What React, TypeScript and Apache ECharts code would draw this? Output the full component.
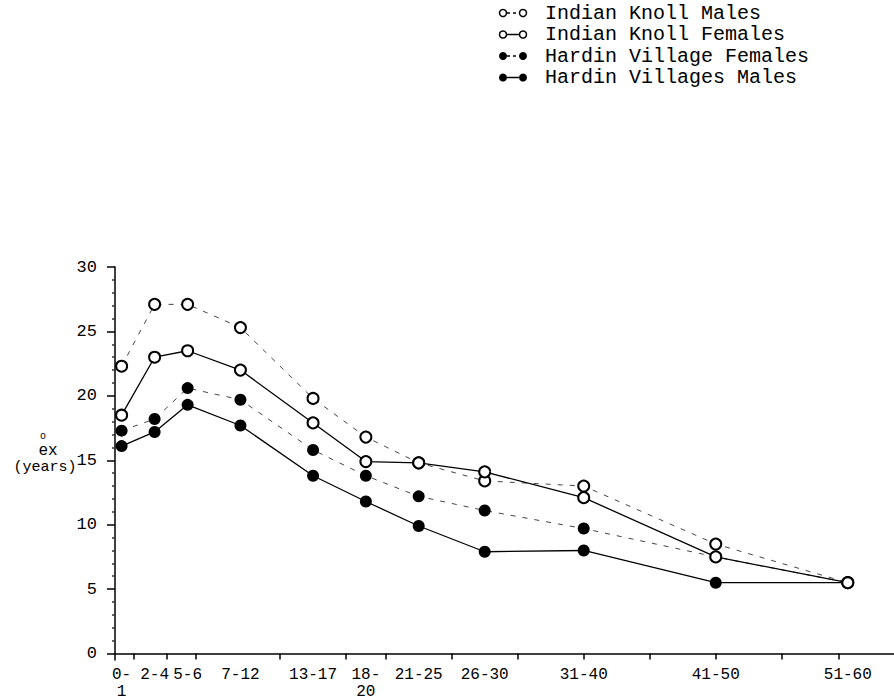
import { useEffect, useRef } from "react";
import * as echarts from "echarts";

// Age-group categories (x-axis labels) and their mid-point ages
const ageGroups = ["0-\n1", "2-4", "5-6", "7-12", "13-17", "18-\n20", "21-25", "26-30", "31-40", "41-50", "51-60"];
const ageMid = [0.5, 3, 5.5, 9.5, 15, 19, 23, 28, 35.5, 45.5, 55.5];
// Hand-drawn tick marks on the age axis (age values)
const xTickAges = [1.4, 3.9, 6.1, 12.5, 17.5, 20.5, 25.5, 30.5, 35.5, 40.5, 45.5, 50.5, 54.8];
// Y tick labels
const yTickValues = [0, 5, 10, 15, 20, 25, 30];

// Life expectancy e_x (years)
const ikMales = [22.3, 27.1, 27.1, 25.3, 19.8, 16.8, 14.8, 13.4, 13.0, 8.5, 5.5];
const ikFemales = [18.5, 23.0, 23.5, 22.0, 17.9, 14.9, 14.8, 14.1, 12.1, 7.5, 5.5];
const hvFemales = [17.3, 18.2, 20.6, 19.7, 15.8, 13.8, 12.2, 11.1, 9.7, 7.5, 5.5];
const hvMales = [16.1, 17.2, 19.3, 17.7, 13.8, 11.8, 9.9, 7.9, 8.0, 5.5, 5.5];

const seriesDefs = [
  { name: "Indian Knoll Males", values: ikMales, hollow: true, dashed: true },
  { name: "Indian Knoll Females", values: ikFemales, hollow: true, dashed: false },
  { name: "Hardin Village Females", values: hvFemales, hollow: false, dashed: true },
  { name: "Hardin Villages Males", values: hvMales, hollow: false, dashed: false },
];

const FONT = "Liberation Mono";

export default function App() {
  const ref = useRef<HTMLDivElement>(null);

  useEffect(() => {
    const chart = echarts.init(ref.current!, null, { renderer: "svg" });

    const minorTicks: number[] = [];
    for (let v = 1; v < 30; v++) if (v % 5 !== 0) minorTicks.push(v);

    const legendRows = [13, 34.5, 56, 77.5];
    const legendGraphics: any[] = [];
    seriesDefs.forEach((d, i) => {
      const y = legendRows[i];
      legendGraphics.push({
        type: "line",
        shape: { x1: 507, y1: y, x2: 519, y2: y },
        style: { stroke: "#000", lineWidth: 1.5, lineDash: d.dashed ? [3, 3] : null },
      });
      [503, 523].forEach((cx) => {
        legendGraphics.push({
          type: "circle",
          shape: { cx, cy: y, r: d.hollow ? 3.5 : 4 },
          style: d.hollow ? { fill: "#fff", stroke: "#000", lineWidth: 1.5 } : { fill: "#000" },
        });
      });
      legendGraphics.push({
        type: "text",
        x: 545,
        y,
        style: { text: d.name, font: `20px '${FONT}'`, fill: "#000", verticalAlign: "middle", align: "left" },
      });
    });

    const option: any = {
      animation: false,
      backgroundColor: "#fff",
      grid: { left: 115, right: 0, top: 267, bottom: 36, containLabel: false },
      xAxis: {
        type: "value",
        min: 0,
        max: 59,
        splitLine: { show: false },
        axisLine: { show: true, lineStyle: { color: "#000", width: 1.5 } },
        axisTick: { show: true, customValues: xTickAges, length: 6, lineStyle: { color: "#000", width: 1.5 } },
        axisLabel: {
          show: true,
          customValues: ageMid,
          margin: 6,
          color: "#000",
          fontFamily: FONT,
          fontSize: 16,
          lineHeight: 17,
          formatter: (v: number) => {
            const i = ageMid.findIndex((a) => Math.abs(a - v) < 1e-6);
            return i >= 0 ? ageGroups[i] : "";
          },
        },
      },
      yAxis: [
        {
          type: "value",
          min: -0.5,
          max: 30,
          splitLine: { show: false },
          axisLine: { show: true, lineStyle: { color: "#000", width: 1.5 } },
          axisTick: { show: true, customValues: yTickValues, length: 8, lineStyle: { color: "#000", width: 1.5 } },
          axisLabel: { show: true, customValues: yTickValues, margin: 18, color: "#000", fontFamily: FONT, fontSize: 17 },
        },
        {
          type: "value",
          min: -0.5,
          max: 30,
          position: "left",
          splitLine: { show: false },
          axisLine: { show: false },
          axisTick: { show: true, customValues: minorTicks, length: 3, lineStyle: { color: "#333", width: 1.5 } },
          axisLabel: { show: false },
        },
      ],
      series: seriesDefs.map((d) => ({
        type: "line",
        name: d.name,
        yAxisIndex: 0,
        data: ageMid.map((a, i) => [a, d.values[i]]),
        symbol: "circle",
        symbolSize: d.hollow ? 11 : 12,
        showAllSymbol: true,
        silent: true,
        z: d.hollow ? 4 : 3,
        itemStyle: d.hollow
          ? { color: "#fff", borderColor: "#000", borderWidth: 2 }
          : { color: "#000", borderWidth: 0 },
        lineStyle: {
          color: d.dashed ? "#444" : "#000",
          width: d.dashed ? 1 : 1.3,
          type: d.dashed ? [5, 7] : "solid",
        },
        emphasis: { disabled: true },
      })),
      graphic: [
        ...legendGraphics,
        { type: "text", x: 43, y: 436, style: { text: "o", font: `10px '${FONT}'`, fill: "#000", align: "center", verticalAlign: "middle" } },
        { type: "text", x: 48, y: 451, style: { text: "ex", font: `16px '${FONT}'`, fill: "#000", align: "center", verticalAlign: "middle" } },
        { type: "text", x: 45, y: 467, style: { text: "(years)", font: `15px '${FONT}'`, fill: "#000", align: "center", verticalAlign: "middle" } },
      ],
    };

    chart.setOption(option);
    return () => chart.dispose();
  }, []);

  return <div ref={ref} style={{ position: "fixed", left: 0, top: 0, width: 894, height: 700 }} />;
}
